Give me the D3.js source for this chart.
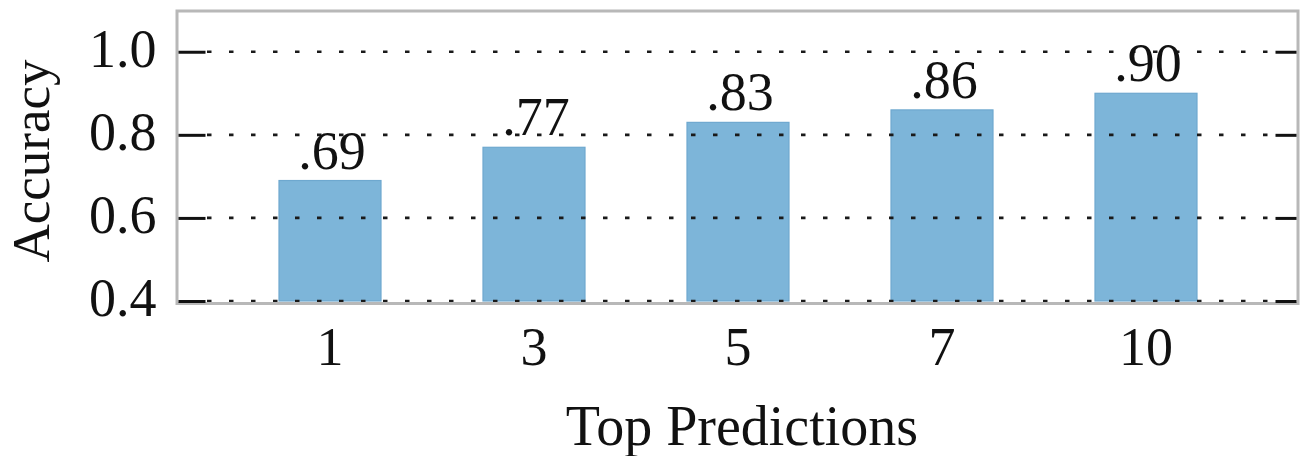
<!DOCTYPE html>
<html>
<head>
<meta charset="utf-8">
<script src="https://cdn.jsdelivr.net/npm/d3@7"></script>
<style>
  html, body { margin: 0; padding: 0; background: #fff; }
  svg { display: block; }
  text { font-family: "Liberation Serif", "Times New Roman", serif; fill: #111; }
</style>
</head>
<body>
<svg id="chart" width="1301" height="456"></svg>
<script>
const categories = ["1", "3", "5", "7", "10"];
const accuracy = [0.69, 0.77, 0.83, 0.86, 0.90];
const valueLabels = [".69", ".77", ".83", ".86", ".90"];
const yTicks = [0.4, 0.6, 0.8, 1.0];
const yDomain = [0.4, 1.1];

(function () {
const svg = d3.select("#chart");
const fLeft = 177, fRight = 1298, fTop = 11, fBottom = 303.5;

const x = d3.scaleBand().domain(categories).range([228, 1248]).paddingInner(0.5).paddingOuter(0.25);
const y = d3.scaleLinear().domain(yDomain).range([301, 10.2]);

// bars
svg.append("g").selectAll("rect").data(accuracy).join("rect")
  .attr("x", (d, i) => x(categories[i]))
  .attr("width", x.bandwidth())
  .attr("y", d => y(d))
  .attr("height", d => y(yDomain[0]) - y(d))
  .attr("fill", "#7db5d9")
  .attr("stroke", "#6ea8cf")
  .attr("stroke-width", 1.2);

// dotted grid
svg.append("g").selectAll("line").data(yTicks).join("line")
  .attr("x1", fLeft + 30).attr("x2", fRight - 22)
  .attr("y1", d => y(d)).attr("y2", d => y(d))
  .attr("stroke", "#1a1a1a").attr("stroke-width", 2.6)
  .attr("stroke-dasharray", "4.5,17.5");

// frame
svg.append("rect")
  .attr("x", fLeft).attr("y", fTop)
  .attr("width", fRight - fLeft).attr("height", fBottom - fTop)
  .attr("fill", "none").attr("stroke", "#b8b8b8").attr("stroke-width", 3);

// left axis
const yAxis = svg.append("g").attr("transform", `translate(${fLeft + 1.5},0)`)
  .call(d3.axisLeft(y).tickValues(yTicks).tickFormat(d3.format(".1f")).tickSizeInner(-27).tickSizeOuter(0).tickPadding(22));
yAxis.select(".domain").remove();
yAxis.selectAll(".tick line").attr("stroke", "#111").attr("stroke-width", 3);
yAxis.selectAll(".tick text").attr("font-size", 54).attr("fill", "#111")
  .attr("dy", "0.27em")
  .style("font-family", '"Liberation Serif", serif');

// right ticks
const yAxisR = svg.append("g").attr("transform", `translate(${fRight - 1.5},0)`)
  .call(d3.axisRight(y).tickValues(yTicks).tickFormat("").tickSizeInner(-21).tickSizeOuter(0));
yAxisR.select(".domain").remove();
yAxisR.selectAll(".tick line").attr("stroke", "#111").attr("stroke-width", 3);

// x axis labels
const xAxis = svg.append("g").attr("transform", `translate(0,${fBottom})`)
  .call(d3.axisBottom(x).tickSize(0).tickPadding(0));
xAxis.select(".domain").remove();
xAxis.selectAll(".tick text").attr("font-size", 54).attr("fill", "#111")
  .attr("dy", null).attr("y", 61)
  .style("font-family", '"Liberation Serif", serif');

// value labels
svg.append("g").selectAll("text").data(accuracy).join("text")
  .attr("x", (d, i) => x(categories[i]) + x.bandwidth() / 2 + 2)
  .attr("y", d => y(d) - 12)
  .attr("text-anchor", "middle")
  .attr("font-size", 54)
  .text((d, i) => valueLabels[i]);

// axis titles
svg.append("text")
  .attr("x", 742).attr("y", 445)
  .attr("text-anchor", "middle").attr("font-size", 56)
  .text("Top Predictions");

svg.append("text")
  .attr("transform", "translate(49,161) rotate(-90)")
  .attr("text-anchor", "middle").attr("font-size", 53)
  .text("Accuracy");
})();
</script>
</body>
</html>
